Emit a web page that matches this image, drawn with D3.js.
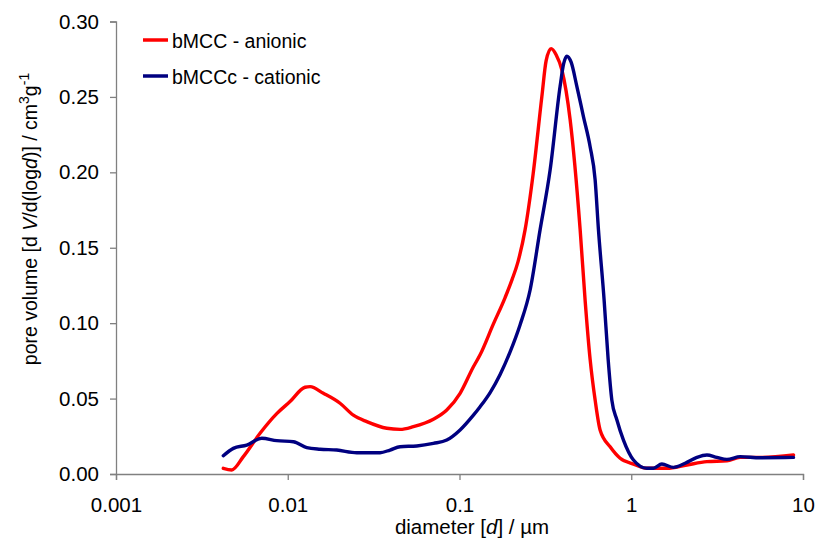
<!DOCTYPE html>
<html>
<head>
<meta charset="utf-8">
<title>pore volume</title>
<script src="https://d3js.org/d3.v7.min.js"></script>
<style>
body { margin:0; background:#fff; }
text { font-family:"Liberation Sans", Arial, sans-serif; fill:#000; }
</style>
</head>
<body>
<svg id="chart" width="817" height="544"></svg>
<script>
// diameters in µm, values in cm3/g
var anionicD = [0.004215,0.00472,0.005512,0.006898,0.008628,0.01031,0.01261,0.01349,0.01612,0.02016,0.0241,0.02884,0.03772,0.04508,0.05389,0.07047,0.08433,0.1008,0.1205,0.1318,0.1569,0.1843,0.2025,0.2194,0.241,0.2684,0.3015,0.3195,0.3416,0.3652,0.3943,0.4406,0.504,0.5389,0.5762,0.6162,0.6592,0.7535,0.8617,1.03,1.233,1.612,2.108,2.756,3.605,4.307,5.632,8.806];
var anionicV = [0.0038,0.0027,0.0115,0.027,0.040,0.048,0.0575,0.0579,0.0535,0.0469,0.039,0.0347,0.0303,0.0296,0.0314,0.0363,0.0424,0.0535,0.0711,0.079,0.099,0.117,0.129,0.141,0.162,0.199,0.250,0.274,0.282,0.278,0.268,0.235,0.162,0.115,0.076,0.049,0.029,0.018,0.0104,0.0066,0.0038,0.0038,0.006,0.0082,0.0088,0.011,0.011,0.0126];
var cationicD = [0.004215,0.004822,0.00577,0.007056,0.008628,0.01078,0.0129,0.01542,0.01929,0.02522,0.03448,0.03943,0.04508,0.0564,0.07047,0.08433,0.1008,0.1205,0.1318,0.1508,0.1724,0.1971,0.2254,0.2577,0.2947,0.337,0.3853,0.404,0.4216,0.4467,0.4822,0.5268,0.5762,0.6162,0.6442,0.6954,0.7337,0.7709,0.8244,0.9008,1.03,1.233,1.347,1.507,1.761,2.06,2.411,2.756,3.152,3.605,4.307,5.632,8.806];
var cationicV = [0.0121,0.017,0.0192,0.0237,0.0221,0.0214,0.0175,0.0164,0.0159,0.0141,0.0141,0.0159,0.0181,0.0186,0.0203,0.0225,0.0292,0.039,0.0446,0.054,0.066,0.081,0.099,0.122,0.162,0.2015,0.257,0.272,0.277,0.273,0.257,0.237,0.217,0.195,0.162,0.115,0.076,0.049,0.036,0.0225,0.0093,0.0038,0.0038,0.0066,0.0044,0.0071,0.011,0.0126,0.011,0.0097,0.0115,0.0108,0.011];
var xTicks = [0.001,0.01,0.1,1,10];
var xTickLabels = ["0.001","0.01","0.1","1","10"];
var yTicks = [0,0.05,0.10,0.15,0.20,0.25,0.30];
var seriesNames = ["bMCC - anionic","bMCCc - cationic"];
var colors = ["#ff0000","#000080"];

var W = 817, H = 544;
var m = {top:21.5, right:14, bottom:70, left:116};
var svg = d3.select("#chart");

var x = d3.scaleLog().domain([0.001,10]).range([m.left, W-m.right]);
var y = d3.scaleLinear().domain([0,0.30]).range([H-m.bottom, m.top]);

var xAxis = svg.append("g").attr("transform","translate(0,"+(H-m.bottom)+")")
  .call(d3.axisBottom(x).tickValues(xTicks).tickFormat(function(d,i){ return xTickLabels[i]; }).tickSize(6).tickPadding(17));
var yAxis = svg.append("g").attr("transform","translate("+m.left+",0)")
  .call(d3.axisLeft(y).tickValues(yTicks).tickFormat(d3.format(".2f")).tickSize(6).tickPadding(11));
[xAxis,yAxis].forEach(function(g){
  g.select(".domain").attr("stroke","#808080").attr("stroke-width",1.3);
  g.selectAll(".tick line").attr("stroke","#808080").attr("stroke-width",1.3);
  g.selectAll(".tick text").attr("font-size",20.5).attr("font-family","Liberation Sans, Arial, sans-serif").attr("fill","#000");
});

var line = d3.line().x(function(d){ return x(d[0]); }).y(function(d){ return y(d[1]); }).curve(d3.curveMonotoneX);
var series = [d3.zip(anionicD, anionicV), d3.zip(cationicD, cationicV)];
series.forEach(function(s,i){
  svg.append("path").datum(s).attr("d", line)
    .attr("fill","none").attr("stroke",colors[i]).attr("stroke-width",3.4)
    .attr("stroke-linejoin","round").attr("stroke-linecap","round");
});

// legend
seriesNames.forEach(function(n,i){
  var ly = 40 + i*36;
  svg.append("line").attr("x1",143).attr("x2",168).attr("y1",ly).attr("y2",ly)
    .attr("stroke",colors[i]).attr("stroke-width",3.5);
  svg.append("text").attr("x",172).attr("y",ly+7.5).attr("font-size",19.5).text(n);
});

// x title
var xt = svg.append("text").attr("x",472).attr("y",534).attr("text-anchor","middle").attr("font-size",20.5);
xt.append("tspan").text("diameter [");
xt.append("tspan").attr("font-style","italic").text("d");
xt.append("tspan").text("] / µm");

// y title
var yt = svg.append("text").attr("transform","translate(37,219) rotate(-90)").attr("text-anchor","middle").attr("font-size",19.5);
yt.append("tspan").text("pore volume [d ");
yt.append("tspan").attr("font-style","italic").text("V");
yt.append("tspan").text("/d(log");
yt.append("tspan").attr("font-style","italic").text("d");
yt.append("tspan").text(")] /  cm");
yt.append("tspan").attr("dy",-8).attr("font-size",14).text("3");
yt.append("tspan").attr("dy",8).text("g");
yt.append("tspan").attr("dy",-8).attr("font-size",14).text("-1");
</script>
</body>
</html>
